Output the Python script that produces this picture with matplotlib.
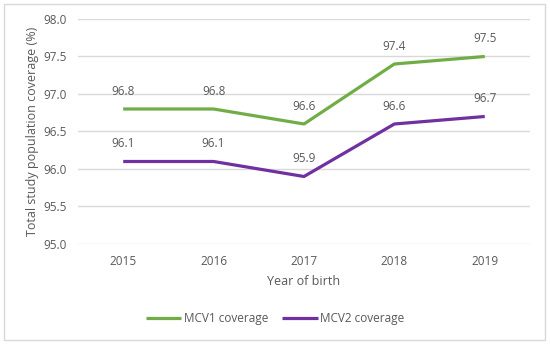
import matplotlib.pyplot as plt
from matplotlib.patches import Rectangle

# data
years = ["2015", "2016", "2017", "2018", "2019"]
mcv1 = [96.8, 96.8, 96.6, 97.4, 97.5]
mcv2 = [96.1, 96.1, 95.9, 96.6, 96.7]

txt = "#595959"
plt.rcParams['font.family'] = ['Open Sans', 'DejaVu Sans']

fig = plt.figure(figsize=(5.5, 3.44), dpi=100)
ax = fig.add_axes([0.1418, 0.2907, 0.8218, 0.6541])

x = list(range(len(years)))
ax.plot(x, mcv1, color="#70AD47", lw=2.3, label="MCV1 coverage", solid_capstyle="butt")
ax.plot(x, mcv2, color="#7030A0", lw=2.3, label="MCV2 coverage", solid_capstyle="butt")

# data labels
for xi, v in zip(x, mcv1):
    ax.annotate(f"{v:.1f}", (xi, v), xytext=(0, 8), textcoords="offset points",
                ha="center", va="bottom", fontsize=8.5, color=txt)
for xi, v in zip(x, mcv2):
    ax.annotate(f"{v:.1f}", (xi, v), xytext=(0, 8), textcoords="offset points",
                ha="center", va="bottom", fontsize=8.5, color=txt)

ax.set_xlim(-0.5, 4.5)
ax.set_ylim(95.0, 98.0)
ax.set_yticks([95.0, 95.5, 96.0, 96.5, 97.0, 97.5, 98.0])
ax.set_yticklabels([f"{t:.1f}" for t in ax.get_yticks()])
ax.set_xticks(x)
ax.set_xticklabels(years)
ax.tick_params(length=0, labelsize=8.5, labelcolor=txt, pad=8)
ax.tick_params(axis="x", pad=8)
ax.grid(axis="y", color="#D9D9D9", lw=1)
ax.set_axisbelow(True)
for s in ax.spines.values():
    s.set_visible(False)

ax.set_xlabel("Year of birth", fontsize=9, color=txt, labelpad=5)
ax.set_ylabel("Total study population coverage (%)", fontsize=9, color=txt, labelpad=3)

fig.legend(loc="center", bbox_to_anchor=(0.5, 0.073), ncol=2, frameon=False,
           fontsize=8.5, labelcolor=txt, handlelength=3.0, handletextpad=0.2,
           columnspacing=1.2)

# outer frame
fig.patches.append(Rectangle((0.007, 0.012), 0.984, 0.976, transform=fig.transFigure,
                             fill=False, edgecolor="#D9D9D9", lw=1))

fig.savefig("out.png", dpi=100)
